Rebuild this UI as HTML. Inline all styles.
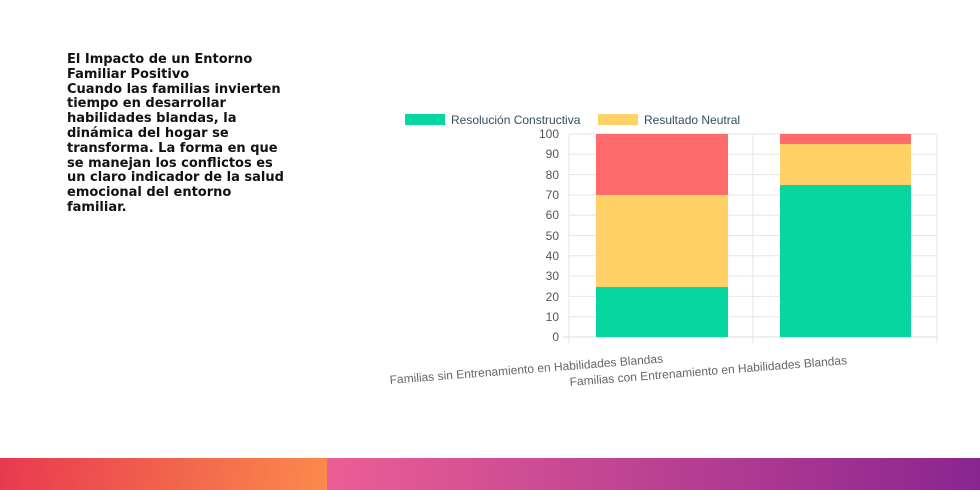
<!DOCTYPE html>
<html><head><meta charset="utf-8"><style>
body{margin:0;width:980px;height:490px;position:relative;background:#fff;overflow:hidden;font-family:"Liberation Sans",sans-serif}
.t{position:absolute;left:67px;top:53px;white-space:nowrap;font-family:"DejaVu Sans",sans-serif;font-weight:bold;font-size:13px;line-height:14.8px;color:#111}
.b1{position:absolute;left:0;top:458px;width:327px;height:32px;background:linear-gradient(100deg,#e8394f,#fb8a4b)}
.b2{position:absolute;left:327px;top:458px;width:653px;height:32px;background:linear-gradient(90deg,#ec5e95,#8a2590)}
</style></head><body>
<div class="t">El Impacto de un Entorno<br>Familiar Positivo<br>Cuando las familias invierten<br>tiempo en desarrollar<br>habilidades blandas, la<br>dinámica del hogar se<br>transforma. La forma en que<br>se manejan los conflictos es<br>un claro indicador de la salud<br>emocional del entorno<br>familiar.</div>
<svg width="980" height="490" style="position:absolute;left:0;top:0" font-family="Liberation Sans, sans-serif">
<rect x="405" y="114" width="40" height="11" fill="#06d6a0"/>
<text x="451" y="124" font-size="12" fill="#2f4f5f">Resolución Constructiva</text>
<rect x="598" y="114" width="40" height="11" fill="#ffd166"/>
<text x="644" y="124" font-size="12" fill="#2f4f5f">Resultado Neutral</text>
<g stroke="#e6e6e6" stroke-width="1">
<line x1="569" y1="134" x2="937" y2="134"/><line x1="569" y1="154.3" x2="937" y2="154.3"/><line x1="569" y1="174.6" x2="937" y2="174.6"/><line x1="569" y1="194.9" x2="937" y2="194.9"/><line x1="569" y1="215.2" x2="937" y2="215.2"/><line x1="569" y1="235.5" x2="937" y2="235.5"/><line x1="569" y1="255.8" x2="937" y2="255.8"/><line x1="569" y1="276.1" x2="937" y2="276.1"/><line x1="569" y1="296.4" x2="937" y2="296.4"/><line x1="569" y1="316.7" x2="937" y2="316.7"/>
<line x1="569" y1="134" x2="569" y2="343"/><line x1="753" y1="134" x2="753" y2="343"/><line x1="937" y1="134" x2="937" y2="343"/>
<line x1="563" y1="337" x2="937" y2="337" stroke="#ddd"/>
</g>
<g font-size="12" fill="#555" text-anchor="end">
<text x="559" y="138">100</text><text x="559" y="158">90</text><text x="559" y="179">80</text><text x="559" y="199">70</text><text x="559" y="219">60</text><text x="559" y="240">50</text><text x="559" y="260">40</text><text x="559" y="280">30</text><text x="559" y="301">20</text><text x="559" y="321">10</text><text x="559" y="341">0</text>
</g>
<rect x="596" y="134" width="132" height="61" fill="#ff6b6b"/>
<rect x="596" y="195" width="132" height="92" fill="#ffd166"/>
<rect x="596" y="287" width="132" height="50" fill="#06d6a0"/>
<rect x="780" y="134" width="131" height="10" fill="#ff6b6b"/>
<rect x="780" y="144" width="131" height="41" fill="#ffd166"/>
<rect x="780" y="185" width="131" height="152" fill="#06d6a0"/>
<g font-size="12" fill="#666">
<text x="0" y="0" transform="translate(390,384) rotate(-4.5)">Familias sin Entrenamiento en Habilidades Blandas</text>
<text x="0" y="0" transform="translate(570,386) rotate(-4.5)">Familias con Entrenamiento en Habilidades Blandas</text>
</g>
</svg>
<div class="b1"></div><div class="b2"></div>
</body></html>
